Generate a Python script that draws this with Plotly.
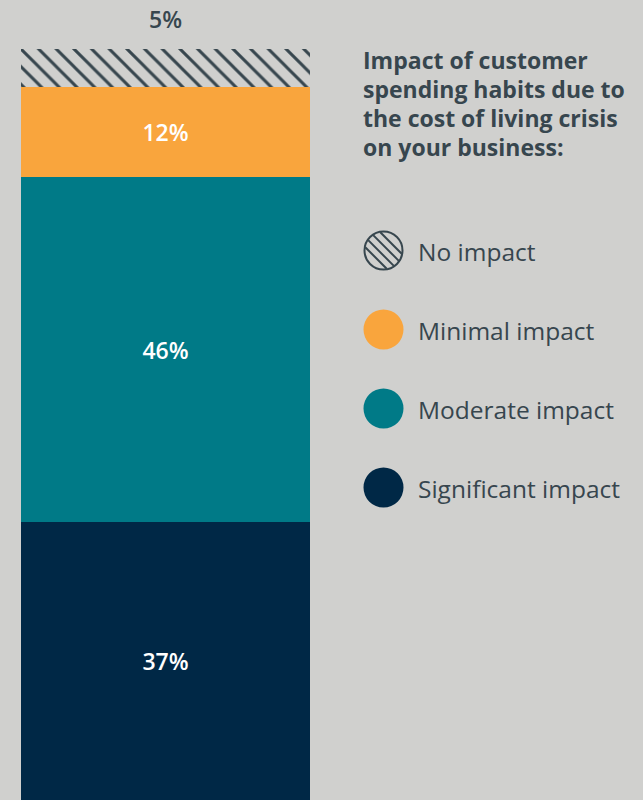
import math
import plotly.graph_objects as go

# Survey result: share of businesses by impact level (stacked bottom -> top)
categories = ["Significant impact", "Moderate impact", "Minimal impact", "No impact"]
values = [37, 46, 12, 5]
colors = ["#002846", "#007a87", "#f9a53d", "#d0d0ce"]
title_lines = ["Impact of customer", "spending habits due to",
               "the cost of living crisis", "on your business:"]

BG = "#d0d0ce"
INK = "#37464e"
FONT = "Open Sans"

W, H = 643, 800
BAR_L, BAR_R, BAR_TOP = 21, 310, 49


def px(x):
    return x / W


def py(y):
    return 1 - y / H


fig = go.Figure()
for cat, val, col in zip(categories, values, colors):
    hatched = cat == "No impact"
    fig.add_trace(go.Bar(
        x=["all"], y=[val], name=cat,
        marker=dict(
            color=col, line=dict(width=0),
            pattern=dict(shape="\\", fgcolor=INK, bgcolor=BG, fgopacity=1,
                         size=12.5, solidity=0.24, fillmode="replace") if hatched else None,
        ),
        text=[None if hatched else f"{val}%"],
        textposition="inside", insidetextanchor="middle",
        textfont=dict(family=FONT, size=23, color="white", weight=600),
        showlegend=False, hoverinfo="skip", cliponaxis=False,
    ))

annotations = []
# Label for the top segment, placed above the bar
annotations.append(dict(x="all", y=sum(values), xref="x", yref="y", text=f"{values[-1]}%",
                        showarrow=False, yanchor="bottom", yshift=12,
                        font=dict(family=FONT, size=23, color=INK, weight=600)))

# Legend title
for i, line in enumerate(title_lines):
    annotations.append(dict(xref="paper", yref="paper", x=px(361), y=py(60 + 29 * i),
                            text=line, showarrow=False,
                            xanchor="left", yanchor="middle",
                            font=dict(family=FONT, size=23, color=INK, weight=700)))

# Legend entries (drawn top -> bottom)
legend_items = list(reversed(list(zip(categories, colors))))
shapes = []
r = 20
cx = 383.5
for i, (cat, col) in enumerate(legend_items):
    cy = 250.5 + 79 * i
    if cat == "No impact":
        shapes.append(dict(type="circle", xref="paper", yref="paper",
                           x0=px(cx - r + 1), x1=px(cx + r - 1), y0=py(cy + r - 1), y1=py(cy - r + 1),
                           line=dict(color=INK, width=2), fillcolor=BG))
        rr = r - 1.5
        for c in (-15, -5, 5, 15):
            d = abs(c) / math.sqrt(2)
            if d >= rr:
                continue
            half = math.sqrt(rr * rr - d * d)
            # chord along x - y = c (screen coords) through the circle
            mx, my = cx + c / 2, cy - c / 2
            u = 1 / math.sqrt(2)
            shapes.append(dict(type="line", xref="paper", yref="paper",
                               x0=px(mx - u * half), y0=py(my - u * half),
                               x1=px(mx + u * half), y1=py(my + u * half),
                               line=dict(color=INK, width=2)))
    else:
        shapes.append(dict(type="circle", xref="paper", yref="paper",
                           x0=px(cx - r), x1=px(cx + r), y0=py(cy + r), y1=py(cy - r),
                           line=dict(width=0), fillcolor=col))
    annotations.append(dict(xref="paper", yref="paper", x=px(416), y=py(cy + 1),
                            text=cat, showarrow=False, xanchor="left", yanchor="middle",
                            font=dict(family=FONT, size=24.5, color=INK)))

fig.update_layout(
    width=W, height=H, barmode="stack", bargap=0,
    paper_bgcolor=BG, plot_bgcolor=BG,
    margin=dict(l=0, r=0, t=0, b=0),
    xaxis=dict(visible=False, fixedrange=True, domain=[px(BAR_L), px(BAR_R)]),
    yaxis=dict(visible=False, range=[0, 100], fixedrange=True, domain=[0, py(BAR_TOP)]),
    annotations=annotations, shapes=shapes,
)
fig.write_html("out.html")
